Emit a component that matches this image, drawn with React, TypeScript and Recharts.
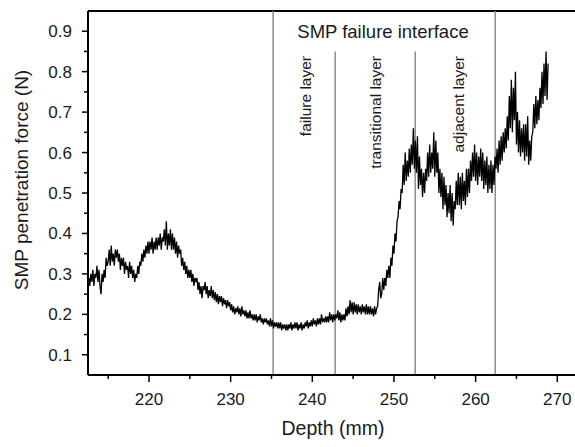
import React from 'react';
import { LineChart, Line, XAxis, YAxis, ReferenceLine } from 'recharts';

// Depth grid (mm) of the sampled penetration signal
const depthStart = 212.5;
const depthStep = 0.125;

// SMP penetration force (N) (noise envelope, 8 samples per mm)
const force: number[] = [
  0.26, 0.29, 0.27, 0.3, // 212.5
  0.28, 0.31, 0.27, 0.3, 0.29, 0.32, 0.28, 0.31, // 213
  0.27, 0.25, 0.3, 0.28, 0.31, 0.29, 0.34, 0.32, // 214
  0.33, 0.36, 0.32, 0.37, 0.33, 0.35, 0.32, 0.36, // 215
  0.34, 0.36, 0.33, 0.35, 0.31, 0.34, 0.32, 0.34, // 216
  0.3, 0.33, 0.31, 0.32, 0.29, 0.33, 0.3, 0.32, // 217
  0.29, 0.31, 0.28, 0.3, 0.29, 0.32, 0.3, 0.33, // 218
  0.32, 0.35, 0.33, 0.36, 0.34, 0.37, 0.35, 0.38, // 219
  0.35, 0.38, 0.36, 0.39, 0.35, 0.38, 0.36, 0.39, // 220
  0.36, 0.39, 0.37, 0.4, 0.36, 0.39, 0.38, 0.41, // 221
  0.37, 0.43, 0.36, 0.4, 0.37, 0.41, 0.36, 0.4, // 222
  0.36, 0.39, 0.35, 0.38, 0.34, 0.37, 0.35, 0.36, // 223
  0.32, 0.34, 0.31, 0.33, 0.3, 0.32, 0.29, 0.31, // 224
  0.29, 0.31, 0.28, 0.3, 0.27, 0.29, 0.28, 0.29, // 225
  0.26, 0.28, 0.25, 0.27, 0.24, 0.27, 0.26, 0.28, // 226
  0.25, 0.27, 0.24, 0.26, 0.245, 0.27, 0.24, 0.26, // 227
  0.235, 0.255, 0.23, 0.25, 0.225, 0.245, 0.23, 0.245, // 228
  0.22, 0.24, 0.225, 0.235, 0.215, 0.235, 0.22, 0.23, // 229
  0.21, 0.225, 0.205, 0.22, 0.2, 0.215, 0.205, 0.22, // 230
  0.2, 0.215, 0.195, 0.22, 0.2, 0.21, 0.195, 0.21, // 231
  0.19, 0.205, 0.19, 0.21, 0.19, 0.2, 0.185, 0.2, // 232
  0.185, 0.2, 0.18, 0.195, 0.185, 0.2, 0.18, 0.19, // 233
  0.175, 0.19, 0.18, 0.19, 0.175, 0.185, 0.17, 0.19, // 234
  0.17, 0.185, 0.165, 0.18, 0.17, 0.18, 0.165, 0.18, // 235
  0.165, 0.18, 0.16, 0.175, 0.165, 0.175, 0.16, 0.175, // 236
  0.16, 0.175, 0.165, 0.18, 0.16, 0.175, 0.165, 0.18, // 237
  0.165, 0.18, 0.16, 0.175, 0.165, 0.18, 0.16, 0.175, // 238
  0.165, 0.18, 0.17, 0.185, 0.165, 0.18, 0.17, 0.185, // 239
  0.17, 0.19, 0.175, 0.185, 0.17, 0.19, 0.175, 0.19, // 240
  0.175, 0.2, 0.18, 0.19, 0.18, 0.195, 0.18, 0.195, // 241
  0.18, 0.205, 0.185, 0.2, 0.18, 0.2, 0.185, 0.2, // 242
  0.19, 0.21, 0.185, 0.205, 0.18, 0.2, 0.185, 0.2, // 243
  0.185, 0.215, 0.195, 0.22, 0.2, 0.235, 0.205, 0.23, // 244
  0.2, 0.23, 0.205, 0.225, 0.2, 0.225, 0.205, 0.22, // 245
  0.2, 0.225, 0.205, 0.22, 0.2, 0.225, 0.2, 0.22, // 246
  0.2, 0.22, 0.2, 0.215, 0.195, 0.22, 0.2, 0.215, // 247
  0.22, 0.26, 0.28, 0.24, 0.25, 0.29, 0.26, 0.29, // 248
  0.27, 0.31, 0.29, 0.32, 0.29, 0.34, 0.32, 0.37, // 249
  0.35, 0.4, 0.38, 0.43, 0.44, 0.48, 0.46, 0.51, // 250
  0.5, 0.57, 0.52, 0.6, 0.53, 0.58, 0.54, 0.61, // 251
  0.55, 0.62, 0.57, 0.66, 0.56, 0.63, 0.55, 0.64, // 252
  0.51, 0.59, 0.52, 0.56, 0.49, 0.55, 0.5, 0.56, // 253
  0.53, 0.6, 0.54, 0.62, 0.55, 0.6, 0.56, 0.65, // 254
  0.54, 0.63, 0.55, 0.6, 0.5, 0.56, 0.49, 0.55, // 255
  0.46, 0.54, 0.47, 0.52, 0.44, 0.5, 0.45, 0.52, // 256
  0.43, 0.5, 0.42, 0.48, 0.46, 0.53, 0.47, 0.55, // 257
  0.47, 0.54, 0.46, 0.55, 0.48, 0.53, 0.47, 0.56, // 258
  0.49, 0.56, 0.5, 0.58, 0.53, 0.6, 0.54, 0.62, // 259
  0.53, 0.6, 0.52, 0.59, 0.54, 0.61, 0.53, 0.6, // 260
  0.51, 0.58, 0.52, 0.59, 0.5, 0.57, 0.51, 0.58, // 261
  0.5, 0.57, 0.52, 0.59, 0.56, 0.61, 0.55, 0.63, // 262
  0.57, 0.64, 0.58, 0.65, 0.6, 0.66, 0.61, 0.69, // 263
  0.63, 0.74, 0.66, 0.78, 0.65, 0.76, 0.68, 0.8, // 264
  0.62, 0.7, 0.6, 0.68, 0.59, 0.66, 0.6, 0.67, // 265
  0.58, 0.67, 0.59, 0.69, 0.57, 0.63, 0.58, 0.64, // 266
  0.65, 0.72, 0.66, 0.74, 0.67, 0.73, 0.68, 0.76, // 267
  0.71, 0.8, 0.72, 0.82, 0.74, 0.85, 0.73, 0.82, // 268
];

const xTicks = [215, 220, 225, 230, 235, 240, 245, 250, 255, 260, 265, 270];
const yTicks = [0.1, 0.15, 0.2, 0.25, 0.3, 0.35, 0.4, 0.45, 0.5, 0.55, 0.6, 0.65, 0.7, 0.75, 0.8, 0.85, 0.9];
const xDomain: [number, number] = [212.53, 272.17];
const yDomain: [number, number] = [0.05, 0.95];

// Layer boundaries (mm)
const fullBoundaries = [235.2, 262.4];
const innerBoundaries = [242.8, 252.6];
const innerTop = 0.85;

const FONT = '"Liberation Sans", Arial, Helvetica, sans-serif';

const data = force.map((f, i) => ({ depth: +(depthStart + i * depthStep).toFixed(3), force: f }));

const XTick = (p: any) => {
  const { x, y, payload } = p;
  const major = Math.abs(payload.value % 10) < 1e-6;
  return (
    <g>
      <line x1={x} x2={x} y1={y} y2={y + (major ? 7 : 4)} stroke="#000" strokeWidth={1.5} />
      {major && (
        <text x={x} y={y + 18} dy="0.71em" textAnchor="middle" fontSize={17} fontFamily={FONT} fill="#1a1a1a">
          {payload.value}
        </text>
      )}
    </g>
  );
};

const YTick = (p: any) => {
  const { x, y, payload } = p;
  const v = payload.value as number;
  const major = Math.abs(v * 10 - Math.round(v * 10)) < 1e-6;
  return (
    <g>
      <line x1={x} x2={x - (major ? 6 : 4)} y1={y} y2={y} stroke="#000" strokeWidth={1.5} />
      {major && (
        <text x={x - 16} y={y} dy="0.355em" textAnchor="end" fontSize={17} fontFamily={FONT} fill="#1a1a1a">
          {v.toFixed(1)}
        </text>
      )}
    </g>
  );
};

export default function App() {
  return (
    <div style={{ position: 'absolute', left: 0, top: 0, width: 575, height: 447, background: '#fff' }}>
      <LineChart width={575} height={447} data={data} margin={{ top: 11, right: 0, left: 0, bottom: 0 }}>
        <XAxis
          type="number"
          dataKey="depth"
          domain={xDomain}
          ticks={xTicks}
          interval={0}
          allowDataOverflow
          height={72}
          tickSize={0}
          tickMargin={0}
          tickLine={false}
          axisLine={{ stroke: '#000', strokeWidth: 2 }}
          tick={<XTick />}
        />
        <YAxis
          type="number"
          domain={yDomain}
          ticks={yTicks}
          interval={0}
          allowDataOverflow
          width={88}
          tickSize={0}
          tickMargin={0}
          tickLine={false}
          axisLine={{ stroke: '#000', strokeWidth: 2 }}
          tick={<YTick />}
        />
        <ReferenceLine y={yDomain[1]} stroke="#000" strokeWidth={2} />
        {fullBoundaries.map((b) => (
          <ReferenceLine key={b} x={b} stroke="#8c8c8c" strokeWidth={1.5} />
        ))}
        {innerBoundaries.map((b) => (
          <ReferenceLine
            key={b}
            segment={[{ x: b, y: innerTop }, { x: b, y: yDomain[0] }]}
            stroke="#8c8c8c"
            strokeWidth={1.5}
          />
        ))}
        <Line
          type="linear"
          dataKey="force"
          stroke="#000"
          strokeWidth={1.3}
          dot={false}
          isAnimationActive={false}
        />
      </LineChart>
      <svg
        width={575}
        height={447}
        style={{ position: 'absolute', left: 0, top: 0, pointerEvents: 'none' }}
      >
        <text x={383} y={38} textAnchor="middle" fontSize={18.5} fontFamily={FONT} fill="#1a1a1a">
          SMP failure interface
        </text>
        <text x={306} y={56} dy="0.35em" textAnchor="end" fontSize={15.5} fontFamily={FONT} fill="#1a1a1a" transform="rotate(-90 306 56)">
          failure layer
        </text>
        <text x={376} y={56} dy="0.35em" textAnchor="end" fontSize={15.5} fontFamily={FONT} fill="#1a1a1a" transform="rotate(-90 376 56)">
          transitional layer
        </text>
        <text x={459} y={56} dy="0.35em" textAnchor="end" fontSize={15.5} fontFamily={FONT} fill="#1a1a1a" transform="rotate(-90 459 56)">
          adjacent layer
        </text>
        <text x={21} y={180} dy="0.35em" textAnchor="middle" fontSize={19} fontFamily={FONT} fill="#1a1a1a" transform="rotate(-90 21 180)">
          SMP penetration force (N)
        </text>
        <text x={333} y={435} textAnchor="middle" fontSize={19.5} fontFamily={FONT} fill="#1a1a1a">
          Depth (mm)
        </text>
      </svg>
    </div>
  );
}
